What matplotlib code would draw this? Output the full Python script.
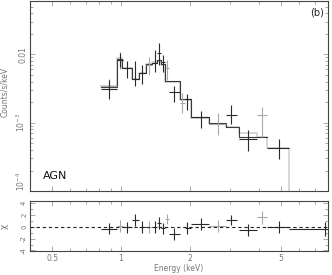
import matplotlib
matplotlib.use("Agg")
import matplotlib.pyplot as plt
import numpy as np
from matplotlib.ticker import FixedLocator, NullFormatter

# ---------------- data ----------------
# dark data set (keV, counts/s/keV)
dark_E = [0.886, 0.990, 1.062, 1.151, 1.235, 1.408, 1.465, 1.525, 1.704, 1.942, 2.235, 3.022, 3.586, 4.898]
dark_Elo = [0.818, 0.961, 1.020, 1.117, 1.198, 1.366, 1.436, 1.495, 1.620, 1.904, 2.021, 2.874, 3.275, 4.341]
dark_Ehi = [0.961, 1.020, 1.117, 1.198, 1.286, 1.436, 1.495, 1.556, 1.810, 2.021, 2.423, 3.211, 3.926, 5.416]
dark_y = [0.00311, 0.00819, 0.00627, 0.00434, 0.0053, 0.00741, 0.01034, 0.00766, 0.00281, 0.00223, 0.00122, 0.00131, 0.000586, 0.000434]
dark_ylo = [0.00223, 0.00648, 0.00449, 0.00344, 0.00367, 0.00548, 0.00693, 0.00548, 0.00201, 0.00154, 0.000846, 0.000967, 0.00038, 0.000291]
dark_yhi = [0.0042, 0.01034, 0.00792, 0.00792, 0.00693, 0.01143, 0.01443, 0.00967, 0.00344, 0.00263, 0.00149, 0.00182, 0.000792, 0.000586]

# grey data set
grey_E = [0.886, 0.990, 1.325, 1.588, 1.846, 2.652, 4.128]
grey_Elo = [0.818, 0.961, 1.286, 1.556, 1.810, 2.423, 3.926]
grey_Ehi = [0.961, 1.020, 1.366, 1.620, 1.904, 2.874, 4.341]
grey_y = [0.00344, 0.0082, 0.00693, 0.00627, 0.00195, 0.000967, 0.00131]
grey_ylo = [0.0025, 0.0062, 0.00496, 0.0042, 0.0014, 0.00067, 0.000627]
grey_yhi = [0.0044, 0.0107, 0.00905, 0.00819, 0.00272, 0.0014, 0.0017]

# model step edges and values
model_edges = [0.818, 0.961, 1.010, 1.117, 1.198, 1.286, 1.366, 1.436, 1.495, 1.556,
               1.810, 2.021, 2.423, 2.874, 3.275, 3.926, 4.341, 5.416]
dark_model = [0.00333, 0.00846, 0.00627, 0.00434, 0.0053, 0.00716, 0.00741, 0.00819, 0.00716,
              0.00406, 0.00223, 0.00122, 0.001, 0.000875, 0.000627, 0.000627, 0.000434]
grey_model = [0.00350, 0.00870, 0.00640, 0.00440, 0.0054, 0.00730, 0.00760, 0.00800, 0.00700,
              0.00390, 0.00215, 0.00118, 0.00097, 0.000860, 0.000716, 0.000627, 0.000434]

# residuals (chi)
res_E = [0.886, 0.990, 1.062, 1.151, 1.235, 1.325, 1.408, 1.465, 1.525, 1.588, 1.704, 1.942,
         2.235, 2.652, 3.022, 3.586, 4.128, 4.898, 7.78]
res_Elo = [0.818, 0.961, 1.020, 1.117, 1.198, 1.286, 1.366, 1.436, 1.495, 1.556, 1.620, 1.904,
           2.021, 2.423, 2.874, 3.275, 3.926, 4.341, 5.416]
res_Ehi = [0.961, 1.020, 1.117, 1.198, 1.286, 1.366, 1.436, 1.495, 1.556, 1.620, 1.810, 2.021,
           2.423, 2.874, 3.211, 3.926, 4.341, 5.416, 8.5]
res_val = [-0.35, 0.1, -0.1, 1.05, 0.0, 0.0, 0.0, 0.6, -0.3, 1.3, -1.2, -0.2,
           0.45, 0.05, 1.15, -0.6, 1.6, 0.0, -0.4]
res_err = [0.9, 1.0, 0.9, 1.0, 1.0, 1.0, 1.0, 1.0, 0.9, 0.9, 1.0, 1.0,
           1.0, 1.0, 0.8, 1.0, 1.1, 1.0, 1.2]
res_grey = [False, True, False, False, False, True, False, False, False, True, False, False,
            False, True, False, False, True, False, False]

xticks = [0.5, 1, 2, 5]
xticklabels = ["0.5", "1", "2", "5"]
yticks_top = [1e-4, 1e-3, 0.01]
yticklabels_top = ["10$^{-4}$", "10$^{-3}$", "0.01"]
yticks_bot = [-4, -2, 0, 2, 4]
yticklabels_bot = ["-4", "-2", "0", "2", "4"]

# ---------------- figure ----------------
plt.rcParams['font.family'] = ['DejaVu Sans']
fig = plt.figure(figsize=(3.32, 2.75), dpi=100)
ax1 = fig.add_axes([0.090, 0.305, 0.898, 0.691])
ax2 = fig.add_axes([0.090, 0.087, 0.898, 0.182])

DARK = "#2a2a2a"
TXT = "#777777"
LW = 0.8

def step_xy(edges, vals):
    xs, ys = [], []
    for i, v in enumerate(vals):
        xs += [edges[i], edges[i + 1]]
        ys += [v, v]
    return xs, ys

gx, gy = step_xy(model_edges, grey_model)
gx.append(model_edges[-1]); gy.append(1e-5)
ax1.plot(gx, gy, color="#d0d0d0", lw=1.2, zorder=1)
dx, dy = step_xy(model_edges[:-1], dark_model[:-1])
ax1.plot(dx, dy, color="#3a3a3a", lw=LW, zorder=2)

def crosses(ax, E, Elo, Ehi, y, ylo, yhi, color, z):
    E = np.array(E); y = np.array(y)
    xerr = [E - np.array(Elo), np.array(Ehi) - E]
    yerr = [y - np.array(ylo), np.array(yhi) - y]
    ax.errorbar(E, y, xerr=xerr, yerr=yerr, fmt='none', ecolor=color, elinewidth=LW, capsize=0, zorder=z)

crosses(ax1, grey_E, grey_Elo, grey_Ehi, grey_y, grey_ylo, grey_yhi, "#a8a8a8", 3)
crosses(ax1, dark_E, dark_Elo, dark_Ehi, dark_y, dark_ylo, dark_yhi, DARK, 4)

ax1.set_xscale('log'); ax1.set_yscale('log')
ax1.set_xlim(0.4, 8.0); ax1.set_ylim(1e-4, 0.06)

# residuals
for i in range(len(res_E)):
    c = "#a8a8a8" if res_grey[i] else DARK
    ax2.errorbar([res_E[i]], [res_val[i]],
                 xerr=[[res_E[i] - res_Elo[i]], [res_Ehi[i] - res_E[i]]],
                 yerr=[[res_err[i]], [res_err[i]]], fmt='none', ecolor=c,
                 elinewidth=LW, capsize=0)
ax2.axhline(0, color="#222222", lw=0.8, ls=(0, (3, 2.5)))
ax2.set_xscale('log')
ax2.set_xlim(0.4, 8.0); ax2.set_ylim(-4.1, 4.3)

minor_x = [0.4, 0.6, 0.7, 0.8, 0.9, 3, 4, 6, 7, 8]
for ax in (ax1, ax2):
    ax.xaxis.set_major_locator(FixedLocator(xticks))
    ax.xaxis.set_minor_locator(FixedLocator(minor_x))
    ax.xaxis.set_minor_formatter(NullFormatter())
    ax.tick_params(which='both', direction='in', top=True, right=True, colors="#888888",
                   labelcolor=TXT, labelsize=5.5, width=0.5, pad=2)
    ax.tick_params(which='major', length=3.5)
    ax.tick_params(which='minor', length=2)
    for s in ax.spines.values():
        s.set_color("#444444"); s.set_linewidth(0.8)

ax1.set_xticklabels([])
ax2.set_xticklabels(xticklabels)
ax2.set_xlabel("Energy (keV)", fontsize=5.5, color=TXT, labelpad=1)

ax1.yaxis.set_major_locator(FixedLocator(yticks_top))
labs = ax1.set_yticklabels(yticklabels_top, rotation=90, va='center')
labs[0].set_va('bottom')
ax1.yaxis.set_minor_locator(FixedLocator([v * m for v in [1e-4, 1e-3, 1e-2] for m in range(2, 10)]))
ax1.yaxis.set_minor_formatter(NullFormatter())
ax1.set_ylabel("Counts/s/keV", fontsize=5.5, color=TXT, labelpad=4)
ax1.yaxis.set_label_coords(-0.07, 0.52)

ax2.yaxis.set_major_locator(FixedLocator(yticks_bot))
ax2.set_yticklabels(yticklabels_bot, rotation=90, va='center', fontsize=5)
ax2.yaxis.set_minor_locator(FixedLocator([-3, -1, 1, 3]))
ax2.set_ylabel("\u03c7", fontsize=6.5, color=TXT)
ax2.yaxis.set_label_coords(-0.07, 0.5)

ax1.text(0.985, 0.965, "(b)", transform=ax1.transAxes, ha='right', va='top', fontsize=7, color="#222222")
ax1.text(0.045, 0.08, "AGN", transform=ax1.transAxes, ha='left', va='center', fontsize=8, color="#111111")

fig.savefig("out.png", dpi=100)
